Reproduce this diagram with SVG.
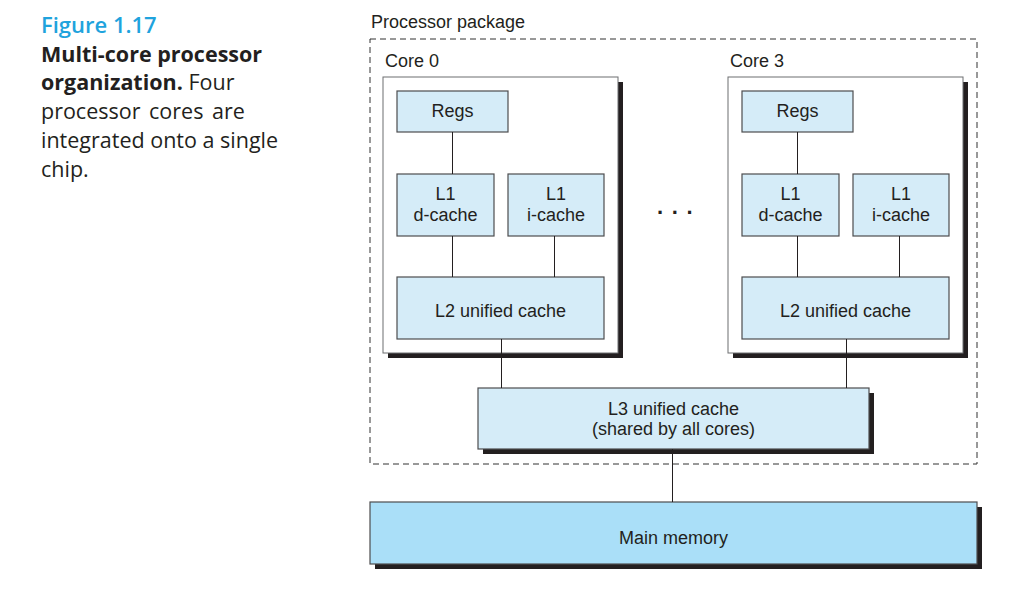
<svg xmlns="http://www.w3.org/2000/svg" width="1029" height="606" viewBox="0 0 1029 606">
<style>
.lbl{font-family:"Liberation Sans",Arial,sans-serif;font-size:18px;fill:#231f20;text-anchor:middle}
.lbl-l{font-family:"Liberation Sans",Arial,sans-serif;font-size:18px;fill:#231f20}
.cap{font-family:"Open Sans","Noto Sans",sans-serif;font-size:21.5px;fill:#231f20}
.box{fill:#d5ecf8;stroke:#4d4d4f;stroke-width:1.2}
.mem{fill:#aadff8;stroke:#4d4d4f;stroke-width:1.2}
.core{fill:#ffffff;stroke:#6d6e70;stroke-width:1}
.shadow{fill:#231f20}
.wire{stroke:#231f20;stroke-width:1;fill:none}
</style>
<g id="caption">
<text class="cap" x="41" y="33" style="fill:#1fa3dd;font-weight:600;font-size:22px">Figure 1.17</text>
<text class="cap" x="41" y="62" style="font-weight:700">Multi-core processor</text>
<text class="cap" x="41" y="90"><tspan style="font-weight:700">organization.</tspan> Four</text>
<text class="cap" x="41" y="119" word-spacing="3">processor cores are</text>
<text class="cap" x="41" y="148">integrated onto a single</text>
<text class="cap" x="41" y="177">chip.</text>
</g>
<g id="package">
<rect x="370" y="39" width="607" height="425" fill="none" stroke="#333333" stroke-width="1" stroke-dasharray="6 4"/>
<text class="lbl-l" x="371" y="28">Processor package</text>
</g>
<g id="core0">
<rect class="shadow" x="388" y="82" width="235" height="276"/>
<rect class="core" x="383" y="77" width="235" height="276"/>
<text class="lbl-l" x="385" y="67">Core 0</text>
</g>
<g id="core0-regs">
<rect class="box" x="397" y="91" width="111" height="41"/>
<text class="lbl" x="452.5" y="117">Regs</text>
</g>
<g id="core0-l1d">
<rect class="box" x="397" y="174" width="97" height="62"/>
<text class="lbl" x="445.5" y="200">L1</text>
<text class="lbl" x="445.5" y="221">d-cache</text>
</g>
<g id="core0-l1i">
<rect class="box" x="508" y="174" width="96" height="62"/>
<text class="lbl" x="556" y="200">L1</text>
<text class="lbl" x="556" y="221">i-cache</text>
</g>
<g id="core0-l2">
<rect class="box" x="397" y="277" width="207" height="62"/>
<text class="lbl" x="500.5" y="317">L2 unified cache</text>
</g>
<g id="core3">
<rect class="shadow" x="733" y="82" width="235" height="276"/>
<rect class="core" x="728" y="77" width="235" height="276"/>
<text class="lbl-l" x="730" y="67">Core 3</text>
</g>
<g id="core3-regs">
<rect class="box" x="742" y="91" width="111" height="41"/>
<text class="lbl" x="797.5" y="117">Regs</text>
</g>
<g id="core3-l1d">
<rect class="box" x="742" y="174" width="97" height="62"/>
<text class="lbl" x="790.5" y="200">L1</text>
<text class="lbl" x="790.5" y="221">d-cache</text>
</g>
<g id="core3-l1i">
<rect class="box" x="853" y="174" width="96" height="62"/>
<text class="lbl" x="901" y="200">L1</text>
<text class="lbl" x="901" y="221">i-cache</text>
</g>
<g id="core3-l2">
<rect class="box" x="742" y="277" width="207" height="62"/>
<text class="lbl" x="845.5" y="317">L2 unified cache</text>
</g>
<g id="ellipsis">
<text x="657" y="214" style="font-family:'Liberation Sans',Arial,sans-serif;font-size:22px;font-weight:700;fill:#231f20" letter-spacing="8.6">...</text>
</g>
<g id="l3">
<rect class="shadow" x="483" y="393" width="391" height="61"/>
<rect class="box" x="478" y="388" width="391" height="61"/>
<text class="lbl" x="673.5" y="414.5">L3 unified cache</text>
<text class="lbl" x="673.5" y="434.5">(shared by all cores)</text>
</g>
<g id="main-memory">
<rect class="shadow" x="375" y="507" width="607" height="62"/>
<rect class="mem" x="370" y="502" width="607" height="62"/>
<text class="lbl" x="673.5" y="544">Main memory</text>
</g>
<g id="connectors">
<line class="wire" x1="452.5" y1="132" x2="452.5" y2="174"/>
<line class="wire" x1="452.5" y1="236" x2="452.5" y2="277"/>
<line class="wire" x1="554.5" y1="236" x2="554.5" y2="277"/>
<line class="wire" x1="501.5" y1="339" x2="501.5" y2="388"/>
<line class="wire" x1="797.5" y1="132" x2="797.5" y2="174"/>
<line class="wire" x1="797.5" y1="236" x2="797.5" y2="277"/>
<line class="wire" x1="899.5" y1="236" x2="899.5" y2="277"/>
<line class="wire" x1="846.5" y1="339" x2="846.5" y2="388"/>
<line class="wire" x1="672.5" y1="449" x2="672.5" y2="502"/>
</g>
</svg>
